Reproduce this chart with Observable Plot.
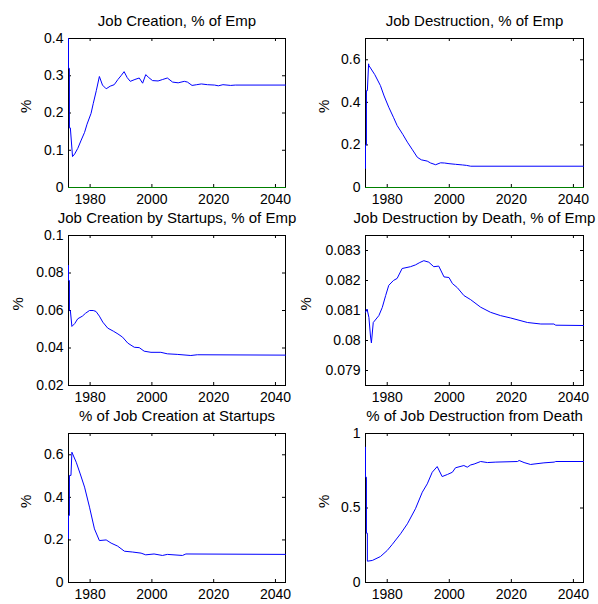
<!DOCTYPE html>
<html><head><meta charset="utf-8">
<script src="https://cdn.jsdelivr.net/npm/d3@7"></script>
<script src="https://cdn.jsdelivr.net/npm/@observablehq/plot@0.6"></script>
<style>
body{margin:0;background:#fff;}
#chart{position:relative;width:598px;height:604px;overflow:hidden;background:#fff;}
#chart svg{position:absolute;}
</style></head><body><div id="chart"></div>
<script>
// ---- data ----
const titles = ["Job Creation, % of Emp", "Job Destruction, % of Emp",
  "Job Creation by Startups, % of Emp", "Job Destruction by Death, % of Emp",
  "% of Job Creation at Startups", "% of Job Destruction from Death"];
const yLabel = "%";
const xTicks = [1980, 2000, 2020, 2040];
const xDomain = [1973, 2043.25];

const jcYears = [1973,1973,1973.3,1973.3,1973.6,1974.3,1975,1976,1977,1978.2,1979,1980.3,1981,1982,1983,1984,1985.2,1986.5,1987.8,1989,1990,1991,1992,1993,1994.5,1995.9,1997,1998,1999,2000.2,2002,2003.5,2005,2006.7,2008.5,2010.5,2011.5,2013,2014.5,2016,2018,2020.3,2021.5,2023,2025.5,2027,2043.25];
const jcValues = [0.4,0.32,0.32,0.16,0.16,0.083,0.09,0.105,0.125,0.148,0.17,0.199,0.225,0.26,0.298,0.275,0.265,0.272,0.276,0.29,0.3,0.311,0.295,0.285,0.29,0.294,0.28,0.303,0.295,0.287,0.286,0.29,0.294,0.283,0.281,0.285,0.283,0.274,0.276,0.278,0.276,0.275,0.273,0.276,0.274,0.275,0.275];

const jdYears = [1973,1973,1973.3,1973.3,1973.6,1974,1974.1,1976,1977.8,1979,1980.5,1982,1983.2,1985,1986.5,1988,1989.7,1991,1992.9,1994,1995.6,1997.2,1998.5,1999.9,2002,2004.2,2005.5,2006.9,2043.25];
const jdValues = [0.09,0.2,0.2,0.455,0.455,0.581,0.573,0.53,0.479,0.43,0.377,0.33,0.291,0.25,0.213,0.18,0.142,0.13,0.124,0.115,0.107,0.116,0.115,0.112,0.109,0.106,0.104,0.1,0.1];

const suYears = [1973,1973,1973.3,1973.3,1973.6,1974.1,1975,1976,1977.5,1978.5,1979.8,1981,1981.9,1983,1984.1,1985.7,1987.5,1989,1990.5,1992.2,1994.3,1995.9,1997.5,1999.7,2002.9,2005,2008.2,2012.6,2014.7,2043.25];
const suValues = [0.084,0.076,0.076,0.06,0.06,0.0515,0.053,0.0556,0.057,0.0585,0.06,0.06,0.0595,0.057,0.0538,0.0506,0.049,0.0475,0.0458,0.0426,0.0404,0.0402,0.0383,0.0377,0.0377,0.0369,0.0366,0.036,0.0364,0.0362];

const deYears = [1973,1973.5,1974.1,1974.6,1974.9,1975.5,1977.3,1978.4,1979.5,1980.5,1982,1983.2,1984.8,1987.5,1989.1,1990.5,1991.8,1993.4,1995,1996.6,1998.3,1999.9,2001,2002.6,2004.7,2006.9,2010.1,2013.3,2016.5,2019.8,2025.2,2029.5,2033.7,2034.3,2043.25];
const deValues = [0.08094,0.08105,0.08077,0.08015,0.07992,0.0806,0.08083,0.0811,0.0815,0.08184,0.082,0.08207,0.0824,0.08246,0.08252,0.0826,0.08266,0.08261,0.08246,0.08248,0.08212,0.0821,0.0819,0.08176,0.0815,0.08136,0.08111,0.08094,0.08083,0.08075,0.0806,0.08055,0.08055,0.08051,0.0805];

const shYears = [1973,1973,1973.3,1973.3,1973.8,1974.1,1975.5,1976.8,1978.2,1979.8,1981.4,1983,1985.2,1986.8,1988.9,1991.1,1993.8,1996.5,1998,2000.7,2003.4,2005,2009.9,2011,2043.25];
const shValues = [0.207,0.315,0.315,0.503,0.503,0.612,0.565,0.51,0.448,0.354,0.252,0.197,0.2,0.185,0.171,0.147,0.143,0.138,0.13,0.134,0.127,0.132,0.127,0.134,0.132];

const dfYears = [1973,1973,1973.3,1973.3,1973.6,1973.6,1975.2,1977.8,1980,1981.6,1984.3,1986.5,1989.1,1991.3,1992.9,1994.5,1996.1,1997.7,1999.4,2001,2002,2004.7,2005.8,2006.9,2008,2010.1,2012.3,2015,2022,2022.5,2024.1,2026.2,2027.3,2030.5,2033.8,2034.3,2043.25];
const dfValues = [0.908,0.707,0.707,0.331,0.331,0.143,0.148,0.174,0.215,0.255,0.327,0.394,0.495,0.606,0.662,0.74,0.778,0.711,0.725,0.74,0.77,0.785,0.774,0.789,0.795,0.812,0.805,0.808,0.812,0.819,0.805,0.792,0.795,0.803,0.808,0.812,0.812];

const zeroYears = [1973, 2043.25];
const zeroValues = [0, 0];

const yDomains = [[0,0.4],[0,0.7],[0.02,0.1],[0.0785,0.0835],[0,0.7],[0,1]];
const yTickSets = [[0,0.1,0.2,0.3,0.4],[0,0.2,0.4,0.6],[0.02,0.04,0.06,0.08,0.1],[0.079,0.08,0.081,0.082,0.083],[0,0.2,0.4,0.6],[0,0.5,1]];
const seriesYears = [jcYears, jdYears, suYears, deYears, shYears, dfYears];
const seriesValues = [jcValues, jdValues, suValues, deValues, shValues, dfValues];
const hasZero = [true, true, false, false, false, false];

// ---- layout ----
const cellW = 299;
const cols = [{left: 0, mL: 68, mR: 14}, {left: 299, mL: 66, mR: 15}];
const rows = [{top: 0, mT: 38, ph: 149}, {top: 200, mT: 35, ph: 150}, {top: 400, mT: 33, ph: 149}];
const labelDx = [-42, -41, -50, -59, -42, -41];
const FONT = "'Liberation Sans', Arial, Helvetica, sans-serif";
const fmt = d => String(+d.toFixed(6));

const chart = document.getElementById("chart");
for (let i = 0; i < 6; i++) {
  const col = cols[i % 2], row = rows[Math.floor(i / 2)];
  const mB = 22;
  const H = row.mT + row.ph + mB;
  const pw = cellW - col.mL - col.mR;
  const pts = seriesYears[i].map((x, j) => ({x, y: seriesValues[i][j]}));
  const zero = zeroYears.map((x, j) => ({x, y: zeroValues[j]}));
  const marks = [
    Plot.frame({stroke: "black", strokeWidth: 1}),
    Plot.tickX(xTicks, {x: d => d, stroke: "black", insetBottom: row.ph - 3}),
    Plot.tickX(xTicks, {x: d => d, stroke: "black", insetTop: row.ph - 3}),
    Plot.tickY(yTickSets[i], {y: d => d, stroke: "black", insetRight: pw - 3}),
    Plot.tickY(yTickSets[i], {y: d => d, stroke: "black", insetLeft: pw - 3}),
    Plot.axisX(xTicks, {tickSize: 0, tickPadding: 7, label: null, tickFormat: d => String(d), fontSize: 14}),
    Plot.axisY(yTickSets[i], {tickSize: 0, tickPadding: 5, label: null, tickFormat: fmt, fontSize: 14}),
    Plot.text([titles[i]], {frameAnchor: "top", dy: -12.5, lineAnchor: "bottom", fontSize: 15, fill: "black"}),
    Plot.text([yLabel], {frameAnchor: "left", dx: labelDx[i], rotate: -90, fontSize: 15, fill: "black"})
  ];
  if (hasZero[i]) marks.push(Plot.line(zero, {x: "x", y: "y", stroke: "#008000", strokeWidth: 1}));
  marks.push(Plot.line(pts, {x: "x", y: "y", stroke: "#0000ff", strokeWidth: 1}));
  const svg = Plot.plot({
    width: cellW, height: H,
    marginLeft: col.mL, marginRight: col.mR, marginTop: row.mT, marginBottom: mB,
    style: {background: "transparent", overflow: "visible", fontFamily: FONT, fontSize: "14px", color: "black"},
    x: {domain: xDomain},
    y: {domain: yDomains[i]},
    marks
  });
  svg.style.left = col.left + "px";
  svg.style.top = row.top + "px";
  chart.appendChild(svg);
}
</script>
</body></html>
